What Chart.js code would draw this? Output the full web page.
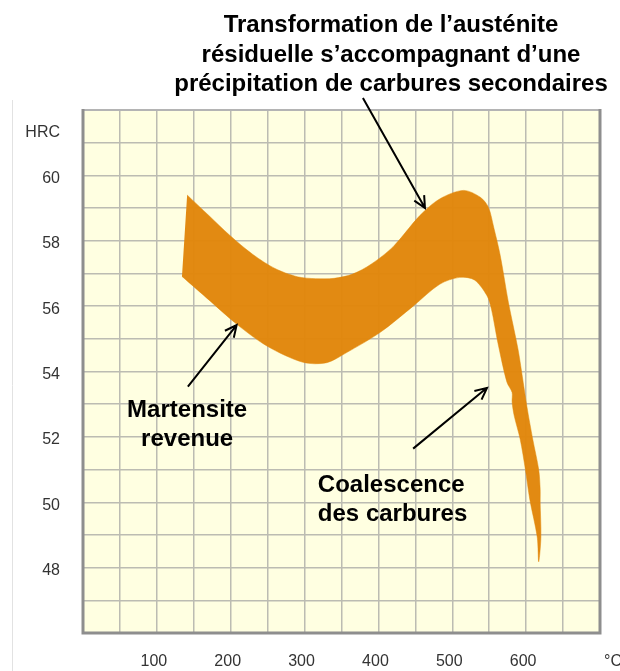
<!DOCTYPE html>
<html>
<head>
<meta charset="utf-8">
<script src="https://cdn.jsdelivr.net/npm/chart.js@4.4.1/dist/chart.umd.min.js"></script>
<style>
    body { margin: 0; background: #ffffff; }
    canvas { display: block; }
</style>
</head>
<body>
<canvas id="hardness_chart" width="620" height="671"></canvas>
<script>
// Outer edge of the hardness band: along the top, then down the right side to the tip
const upperTemp = [141, 170, 199, 230, 260, 290, 315, 340, 365, 390, 420, 456, 483, 515, 538, 549, 556, 565, 576, 589, 596, 601, 609, 617, 619, 619, 620, 617];
const upperHrc  = [59.40, 58.78, 58.16, 57.58, 57.15, 56.90, 56.84, 56.85, 56.98, 57.28, 57.82, 58.77, 59.28, 59.54, 59.33, 59.02, 58.42, 57.54, 56.11, 54.68, 53.67, 52.93, 51.92, 51.00, 50.39, 49.99, 48.94, 48.18];

// Inner edge: along the bottom from the left, then down the left side of the drop
const lowerTemp = [134, 172, 208, 249, 298, 330, 357, 402, 447, 483, 510, 530, 547, 553, 562, 574, 581, 581, 584, 592, 599, 605, 615];
const lowerHrc  = [56.91, 56.16, 55.45, 54.78, 54.28, 54.27, 54.58, 55.19, 56.00, 56.67, 56.88, 56.80, 56.32, 55.91, 54.85, 53.67, 53.36, 53.06, 52.63, 51.92, 51.00, 50.08, 48.94];

// Axis labels
const xTickLabels = [100, 200, 300, 400, 500, 600];
const yTickLabels = [48, 50, 52, 54, 56, 58, 60];

const titleLines = [
    'Transformation de l\u2019aust\u00e9nite',
    'r\u00e9siduelle s\u2019accompagnant d\u2019une',
    'pr\u00e9cipitation de carbures secondaires'
];

// closed outline: outer edge, then inner edge walked backwards
const bandOutline = upperTemp.map((t, i) => ({ x: t, y: upperHrc[i] }))
    .concat(lowerTemp.map((t, i) => ({ x: t, y: lowerHrc[i] })).reverse());

const FONT = '"Liberation Sans", Arial, sans-serif';


/* =========================
   Helpers
========================= */
function drawArrow(ctx, x1, y1, x2, y2) {
    const ang = Math.atan2(y2 - y1, x2 - x1);
    const head = 13;
    ctx.beginPath();
    ctx.moveTo(x1, y1);
    ctx.lineTo(x2, y2);
    ctx.moveTo(x2 - head * Math.cos(ang - 0.45), y2 - head * Math.sin(ang - 0.45));
    ctx.lineTo(x2, y2);
    ctx.lineTo(x2 - head * Math.cos(ang + 0.45), y2 - head * Math.sin(ang + 0.45));
    ctx.stroke();
}


/* =========================
   Paper background + frame
========================= */
const paperPlugin = {
    id: 'paper',
    beforeDraw(chart) {
        const { ctx, chartArea: a } = chart;
        ctx.save();
        ctx.fillStyle = '#FFFFE1';
        ctx.fillRect(a.left, a.top, a.right - a.left, a.bottom - a.top);
        // thin rule on the far left
        ctx.strokeStyle = '#e2e2e2';
        ctx.lineWidth = 1;
        ctx.beginPath();
        ctx.moveTo(12.5, 100);
        ctx.lineTo(12.5, chart.height);
        ctx.stroke();
        ctx.restore();
    },
    afterDatasetsDraw(chart) {
        const { ctx, chartArea: a } = chart;
        ctx.save();
        ctx.strokeStyle = '#b4b4b4';
        ctx.lineWidth = 2;
        ctx.beginPath();
        ctx.moveTo(a.left, a.top);
        ctx.lineTo(a.right, a.top);
        ctx.stroke();
        ctx.strokeStyle = '#8e8e8e';
        ctx.lineWidth = 3;
        ctx.beginPath();
        ctx.moveTo(a.left, a.top - 1);
        ctx.lineTo(a.left, a.bottom);
        ctx.lineTo(a.right, a.bottom);
        ctx.lineTo(a.right, a.top - 1);
        ctx.stroke();
        ctx.restore();
    }
};


/* =========================
   Titles, units and callouts
========================= */
const notesPlugin = {
    id: 'notes',
    afterDraw(chart) {
        const { ctx, chartArea: a } = chart;
        const xs = chart.scales.x;
        const ys = chart.scales.y;
        const px = v => xs.getPixelForValue(v);
        const py = v => ys.getPixelForValue(v);

        ctx.save();

        // axis units
        ctx.fillStyle = '#333333';
        ctx.font = '16px ' + FONT;
        ctx.textAlign = 'right';
        ctx.textBaseline = 'middle';
        ctx.fillText('HRC', a.left - 23, py(61.3));
        ctx.textAlign = 'center';
        ctx.fillText('\u00b0C', a.right + 13, a.bottom + 29);

        // heading
        ctx.fillStyle = '#000000';
        ctx.font = 'bold 24px ' + FONT;
        ctx.textAlign = 'center';
        ctx.textBaseline = 'alphabetic';
        titleLines.forEach((line, i) => {
            ctx.fillText(line, 391, 32 + i * 29.5);
        });

        // band callouts
        ctx.fillText('Martensite', px(141), py(52.6));
        ctx.fillText('revenue', px(141), py(51.72));
        ctx.textAlign = 'left';
        ctx.fillText('Coalescence', px(318), py(50.3));
        ctx.fillText('des carbures', px(318), py(49.42));

        ctx.strokeStyle = '#000000';
        ctx.lineWidth = 2;
        drawArrow(ctx, px(379), py(62.37), px(463), py(59.0));
        drawArrow(ctx, px(142), py(53.54), px(208), py(55.42));
        drawArrow(ctx, px(447), py(51.64), px(547), py(53.5));

        ctx.restore();
    }
};


/* =========================
   Chart
========================= */
const ctx = document.getElementById('hardness_chart').getContext('2d');

new Chart(ctx, {
    type: 'scatter',
    data: {
        datasets: [
            {
                label: 'HRC',
                data: bandOutline,
                showLine: true,
                fill: 'shape',
                backgroundColor: 'rgba(225, 133, 9, 0.96)',
                borderColor: 'rgba(225, 133, 9, 0.96)',
                borderWidth: 0.5,
                pointRadius: 0,
                tension: 0.3
            }
        ]
    },
    options: {
        responsive: false,
        animation: false,
        layout: {
            padding: { top: 110, right: 20, left: 0, bottom: 0 }
        },
        plugins: {
            legend: { display: false },
            tooltip: { enabled: false }
        },
        scales: {
            x: {
                type: 'linear',
                min: 0,
                max: 700,
                afterFit: scale => { scale.height = 38; },
                grid: { color: '#bcbcb2', lineWidth: 1.5, drawTicks: false },
                border: { display: false },
                ticks: {
                    stepSize: 50,
                    padding: 19,
                    labelOffset: -3,
                    color: '#333333',
                    font: { family: FONT, size: 16 },
                    maxRotation: 0,
                    autoSkip: false,
                    callback: v => xTickLabels.includes(v) ? String(v) : ''
                }
            },
            y: {
                type: 'linear',
                min: 46,
                max: 62,
                afterFit: scale => { scale.width = 83; },
                grid: { color: '#bcbcb2', lineWidth: 1.5, drawTicks: false },
                border: { display: false },
                ticks: {
                    stepSize: 1,
                    padding: 23,
                    labelOffset: 3,
                    color: '#333333',
                    font: { family: FONT, size: 16 },
                    autoSkip: false,
                    callback: v => yTickLabels.includes(v) ? String(v) : ''
                }
            }
        }
    },
    plugins: [paperPlugin, notesPlugin]
});
</script>
</body>
</html>
